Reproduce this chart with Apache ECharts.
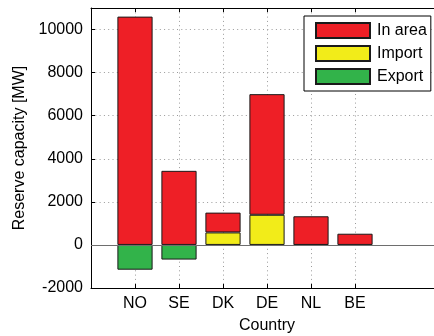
<!DOCTYPE html>
<html>
<head>
<meta charset="utf-8">
<script src="https://cdn.jsdelivr.net/npm/echarts@6/dist/echarts.min.js"></script>
<style>
  html, body { margin: 0; padding: 0; background: #fff; }
  #chart { width: 434px; height: 336px; }
</style>
</head>
<body>
<div id="chart"></div>
<script>
// Reserve capacity by country [MW]
var countries = ['NO', 'SE', 'DK', 'DE', 'NL', 'BE'];
var inArea    = [10600, 3440, 920, 5600, 1330, 520];
var imports   = [null, null, 580, 1400, null, null];
var exports   = [-1150, -680, null, null, -30, -50];
var yTicks    = { min: -2000, max: 11000, step: 2000 };

// Axis slots run 0..8 with the countries at 1..6
var slots = [''].concat(countries, ['', '']);
function pad(arr) {
  return [null].concat(arr.map(function (v) { return v === null ? '-' : v; }), [null, null]);
}
function isCountry(idx, val) { return val !== ''; }

var font = '"Liberation Sans", Arial, sans-serif';
var dotted = { color: '#9a9a9a', width: 1, type: [1, 3.3] };
var border = { borderColor: '#1a1a1a', borderWidth: 1 };

var chart = echarts.init(document.getElementById('chart'), null, { renderer: 'canvas' });
chart.setOption({
  animation: false,
  backgroundColor: '#fff',
  textStyle: { fontFamily: font, color: '#000' },
  grid: { left: 91, right: -9, top: 8, bottom: 48, containLabel: false, outerBoundsMode: 'none' },
  legend: {
    orient: 'vertical',
    left: 304, top: 16,
    data: ['In area', 'Import', 'Export'],
    itemWidth: 54, itemHeight: 15, itemGap: 6,
    padding: [6, 4, 6, 11],
    borderColor: '#000', borderWidth: 1, backgroundColor: '#fff',
    icon: 'rect',
    textStyle: { fontFamily: font, fontSize: 16, color: '#000', padding: [0, 0, 0, 2] }
  },
  xAxis: [{
    type: 'category', data: slots, boundaryGap: false, position: 'bottom',
    name: 'Country', nameLocation: 'middle', nameGap: 30,
    nameTextStyle: { fontFamily: font, fontSize: 16, color: '#000' },
    axisLine: { onZero: false, lineStyle: { color: '#000', width: 1 } },
    axisTick: { inside: true, length: 4, interval: isCountry, lineStyle: { color: '#000' } },
    axisLabel: { interval: isCountry, margin: 8, fontFamily: font, fontSize: 16, color: '#000' },
    splitLine: { show: true, interval: isCountry, lineStyle: dotted }
  }, {
    type: 'category', data: slots, boundaryGap: false, position: 'top',
    axisLine: { onZero: false, lineStyle: { color: '#000', width: 1 } },
    axisTick: { inside: true, length: 4, interval: isCountry, lineStyle: { color: '#000' } },
    axisLabel: { show: false },
    splitLine: { show: false }
  }],
  yAxis: {
    type: 'value', min: yTicks.min, max: yTicks.max, interval: yTicks.step,
    name: 'Reserve capacity [MW]', nameLocation: 'middle', nameGap: 62,
    nameTextStyle: { fontFamily: font, fontSize: 16, color: '#000' },
    axisLine: { show: true, lineStyle: { color: '#000', width: 1 } },
    axisTick: { show: true, inside: true, length: 4, lineStyle: { color: '#000' } },
    axisLabel: {
      margin: 8, fontFamily: font, fontSize: 16, color: '#000', showMaxLabel: false,
      formatter: function (v) { return String(v); }
    },
    splitLine: { show: true, lineStyle: dotted }
  },
  series: [{
    name: 'Import', type: 'bar', stack: 'cap', barWidth: '80%',
    data: pad(imports), itemStyle: Object.assign({ color: '#f2ec19' }, border)
  }, {
    name: 'In area', type: 'bar', stack: 'cap', barWidth: '80%',
    data: pad(inArea), itemStyle: Object.assign({ color: '#ee1f26' }, border),
    markLine: {
      silent: true, symbol: 'none', label: { show: false },
      lineStyle: { color: '#6e6e6e', width: 1, type: 'solid' },
      data: [{ yAxis: 0 }]
    }
  }, {
    name: 'Export', type: 'bar', stack: 'cap', barWidth: '80%',
    data: pad(exports), itemStyle: Object.assign({ color: '#32b34a' }, border)
  }]
});
</script>
</body>
</html>
